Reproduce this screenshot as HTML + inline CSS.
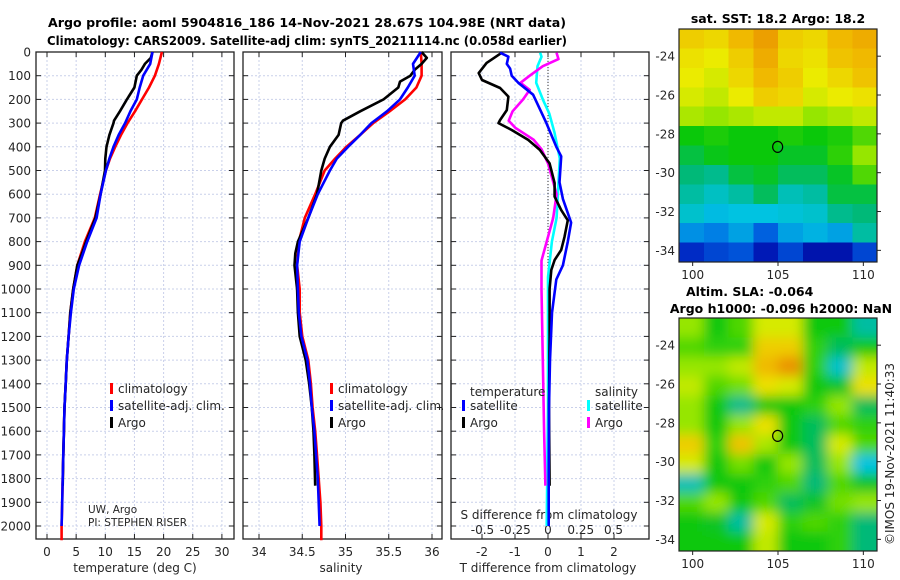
<!DOCTYPE html>
<html><head><meta charset="utf-8"><style>
body{margin:0;background:#fff;}
svg{display:block;font-family:"DejaVu Sans","Liberation Sans",sans-serif;}
.t{font-size:12px;fill:#262626;}
.b{font-size:12.5px;font-weight:bold;fill:#000;}
</style></head><body>
<svg id="fig" width="900" height="580" viewBox="0 0 900 580">
<text class="b" x="307" y="27" text-anchor="middle" textLength="518" lengthAdjust="spacingAndGlyphs">Argo profile: aoml 5904816_186 14-Nov-2021 28.67S 104.98E (NRT data)</text>
<text class="b" x="307" y="45" text-anchor="middle" textLength="520" lengthAdjust="spacingAndGlyphs">Climatology: CARS2009. Satellite-adj clim: synTS_20211114.nc (0.058d earlier)</text>
<g id="g"></g>
</svg>
<script>
// ---- data ----
const depthTicks=[0,100,200,300,400,500,600,700,800,900,1000,1100,1200,1300,1400,1500,1600,1700,1800,1900,2000];
const tTicks=[0,5,10,15,20,25,30];
const sTicks=[34,34.5,35,35.5,36];
const dtTicks=[-2,-1,0,1,2];
const dsTicks=[-0.5,-0.25,0,0.25,0.5];
const dsTickLabels=["-0.5","-0.25","0","0.25","0.5"];
const latTicks=[-24,-26,-28,-30,-32,-34];
const lonTicks=[100,105,110];

const depthClim=[0,50,100,150,200,250,300,350,400,450,500,600,700,800,900,1000,1100,1200,1300,1400,1500,1600,1700,1800,1900,2000,2060];
const tempClim=[19.7,19.2,18.5,17.5,16.3,15.1,13.8,12.7,11.7,10.8,10.1,9.1,8.2,6.5,5.2,4.5,4.0,3.7,3.4,3.2,3.0,2.9,2.8,2.7,2.6,2.5,2.5];
const salClim=[35.87,35.88,35.88,35.82,35.69,35.51,35.32,35.17,35.01,34.88,34.76,34.65,34.53,34.46,34.44,34.47,34.47,34.50,34.57,34.60,34.62,34.65,34.67,34.69,34.71,34.72,34.72];
const depthSat=[0,50,100,150,200,250,300,350,400,450,500,600,700,800,900,1000,1100,1200,1300,1400,1500,1600,1700,1800,1900,2000];
const tempSat=[18.1,17.7,16.5,15.9,15.4,14.3,13.4,12.3,11.4,10.7,10.1,9.2,8.5,6.9,5.5,4.6,4.1,3.7,3.4,3.2,3.0,2.9,2.8,2.7,2.6,2.5];
const salSat=[35.87,35.78,35.80,35.72,35.63,35.48,35.30,35.17,35.03,34.90,34.82,34.68,34.57,34.47,34.44,34.45,34.46,34.49,34.56,34.59,34.61,34.64,34.66,34.68,34.69,34.70];
const depthArgo=[0,25,50,75,100,125,150,200,250,290,300,350,400,450,500,600,700,800,850,900,1000,1100,1200,1300,1400,1500,1600,1700,1830];
const tempArgo=[18.1,17.8,16.8,16.2,15.4,15.2,15.0,13.7,12.5,11.5,11.4,10.7,10.2,10.0,9.95,9.2,8.3,6.7,6.0,5.2,4.5,4.0,3.7,3.4,3.2,3.0,2.9,2.8,2.7];
const salArgo=[35.88,35.94,35.88,35.80,35.75,35.63,35.61,35.44,35.17,34.97,34.95,34.92,34.82,34.76,34.72,34.67,34.57,34.45,34.42,34.41,34.44,34.45,34.47,34.54,34.58,34.61,34.63,34.64,34.65];

const depthDT=[3,46,89,118,152,188,245,287,300,329,371,413,470,553,610,667,710,780,835,878,920,1000,1200,1500,1830];
const dTArgo=[-1.4,-1.86,-2.1,-2.0,-1.45,-1.2,-1.25,-1.45,-1.5,-1.1,-0.6,-0.25,0.05,0.2,0.2,0.4,0.6,0.5,0.4,0.2,0.1,0.05,0.05,0.03,0.05];
const depthDTs=[3,20,50,70,100,130,180,240,300,400,440,550,620,720,800,900,960,1100,1300,1500,1800,2000];
const dTSat=[-1.45,-1.2,-1.25,-1.15,-1.1,-0.9,-0.45,-0.25,-0.05,0.25,0.4,0.35,0.45,0.7,0.6,0.45,0.25,0.12,0.06,0.03,0.02,0.02];
const depthDS=[3,30,60,100,130,160,200,250,290,320,370,410,470,600,700,800,880,1000,1300,1600,1830];
const dSArgo=[0.065,0.08,-0.04,-0.14,-0.21,-0.14,-0.19,-0.27,-0.3,-0.25,-0.11,-0.05,0,0.066,0.04,-0.01,-0.05,-0.05,-0.04,-0.03,-0.02];
const depthDSs=[3,20,60,130,200,260,340,450,550,700,800,950,1200,1500,2000];
const dSSat=[-0.06,-0.05,-0.08,-0.09,-0.04,0.01,0.05,0.09,0.08,0.066,0.03,0.0,0.0,0.0,-0.01];

const sstGrid=[
[.74,.72,.78,.82,.74,.72,.78,.80],
[.70,.68,.74,.80,.72,.70,.76,.78],
[.68,.66,.72,.78,.74,.68,.72,.76],
[.66,.64,.68,.74,.72,.66,.68,.70],
[.62,.60,.62,.64,.64,.60,.62,.64],
[.52,.53,.52,.52,.53,.52,.53,.56],
[.48,.51,.52,.52,.50,.50,.54,.60],
[.44,.42,.48,.50,.46,.46,.50,.56],
[.40,.37,.40,.46,.38,.40,.48,.48],
[.36,.33,.34,.34,.35,.36,.42,.44],
[.28,.26,.30,.22,.30,.32,.30,.40],
[.14,.18,.20,.10,.18,.08,.08,.18]];
const slaGrid=[
[.60,.52,.56,.66,.66,.52,.52,.40],
[.56,.54,.54,.74,.74,.54,.46,.52],
[.60,.60,.64,.78,.84,.54,.36,.64],
[.64,.56,.58,.70,.66,.52,.50,.70],
[.60,.52,.42,.52,.52,.54,.60,.46],
[.60,.52,.60,.70,.52,.46,.56,.54],
[.74,.54,.76,.62,.52,.46,.66,.56],
[.66,.52,.58,.52,.60,.46,.60,.34],
[.38,.52,.52,.54,.56,.44,.56,.50],
[.56,.60,.52,.56,.46,.50,.58,.60],
[.52,.50,.40,.66,.54,.56,.54,.44],
[.52,.52,.52,.64,.52,.52,.54,.44]];
const floatLon=[104.98], floatLat=[-28.67];

// ---- helpers ----
const NS="http://www.w3.org/2000/svg";
const G=document.getElementById('g');
function el(tag,attrs,parent){const e=document.createElementNS(NS,tag);for(const k in attrs)e.setAttribute(k,attrs[k]);(parent||G).appendChild(e);return e;}
const TOP=52, BOT=539;
const yD=d=>TOP+d*0.237;
const xT=v=>47+v*5.83;
const xS=v=>259+(v-34)*86.5;
const xDT=v=>548+v*33;
const xDS=v=>548+v*131;
const panels=[[36,234],[243,442],[451,649]];

panels.forEach((p,i)=>{
  const [l,r]=p;
  const vx = i==0?tTicks.map(xT):i==1?sTicks.map(xS):dtTicks.map(xDT);
  vx.forEach(x=>{const ln=el('line',{x1:x,x2:x,y1:TOP,y2:BOT,stroke:'#c9d0ea','stroke-dasharray':'2,2','stroke-width':1});
    });
  depthTicks.forEach(d=>{const y=yD(d);
    const ln=el('line',{x1:l,x2:r,y1:y,y2:y,stroke:'#c9d0ea','stroke-dasharray':'2,2','stroke-width':1});
    
    el('line',{x1:l,x2:l+5,y1:y,y2:y,stroke:'#222'});el('line',{x1:r-5,x2:r,y1:y,y2:y,stroke:'#222'});
    if(i==0){const t=el('text',{x:31,y:y+4.5,'text-anchor':'end',class:'t'});t.textContent=d;
      }
  });
  vx.forEach(x=>{el('line',{x1:x,x2:x,y1:BOT,y2:BOT-5,stroke:'#222'});el('line',{x1:x,x2:x,y1:TOP,y2:TOP+5,stroke:'#222'});});
  const fr=el('rect',{x:l,y:TOP,width:r-l,height:BOT-TOP,fill:'none',stroke:'#222','stroke-width':1.3});
  
});
function xlab(xs,labels,y,name){xs.forEach((x,k)=>{const t=el('text',{x:x,y:y,'text-anchor':'middle',class:'t'});t.textContent=labels[k];
  });}
xlab(tTicks.map(xT),tTicks,556,'temp-tick-label');
xlab(sTicks.map(xS),sTicks,556,'salinity-tick-label');
xlab(dtTicks.map(xDT),dtTicks,556,'tdiff-tick-label');
xlab(dsTicks.map(xDS),dsTickLabels,534,'sdiff-tick-label');
function txt(x,y,s,name,attrs){const t=el('text',Object.assign({x:x,y:y,class:'t'},attrs||{}));t.textContent=s;
  return t;}
txt(135,572,'temperature (deg C)','x-axis-title-temperature',{'text-anchor':'middle'});
txt(341,572,'salinity','x-axis-title-salinity',{'text-anchor':'middle'});
txt(548,572,'T difference from climatology','x-axis-title-tdiff',{'text-anchor':'middle'});
txt(549,519,'S difference from climatology','axis-title-sdiff',{'text-anchor':'middle'});
txt(88,513,'UW, Argo','institution-label',{style:'font-size:10.5px'});
txt(88,526,'PI: STEPHEN RISER','pi-label',{style:'font-size:10.5px'});

const zl=el('line',{x1:xDT(0),x2:xDT(0),y1:TOP,y2:yD(2000),stroke:'#333','stroke-dasharray':'1,2','stroke-width':1});


function line(xs,ds,fx,color,name){const pts=xs.map((v,k)=>fx(v).toFixed(1)+','+yD(ds[k]).toFixed(1)).join(' ');
  const p=el('polyline',{points:pts,fill:'none',stroke:color,'stroke-width':2.6,'stroke-linejoin':'round'});
  }
line(tempClim,depthClim,xT,'#ff0000','temp-climatology-line');
line(tempArgo,depthArgo,xT,'#000','temp-argo-line');
line(tempSat,depthSat,xT,'#0000ff','temp-satellite-line');
line(salClim,depthClim,xS,'#ff0000','sal-climatology-line');
line(salArgo,depthArgo,xS,'#000','sal-argo-line');
line(salSat,depthSat,xS,'#0000ff','sal-satellite-line');
line(dSSat,depthDSs,xDS,'#00ffff','sdiff-satellite-line');
line(dSArgo,depthDS,xDS,'#ff00ff','sdiff-argo-line');
line(dTArgo,depthDT,xDT,'#000','tdiff-argo-line');
line(dTSat,depthDTs,xDT,'#0000ff','tdiff-satellite-line');

// legends
function leg(x,y,color,label,name){const m=el('rect',{x:x,y:y-9,width:3,height:11,fill:color});
  
  txt(x+8,y+1,label,name);}
[[110,'#ff0000','climatology'],[110,'#0000ff','satellite-adj. clim.'],[110,'#000','Argo']].forEach((a,k)=>leg(a[0],392+k*17,a[1],a[2],'legend-temp-'+k));
[[330,'#ff0000','climatology'],[330,'#0000ff','satellite-adj. clim.'],[330,'#000','Argo']].forEach((a,k)=>leg(a[0],392+k*17,a[1],a[2],'legend-sal-'+k));
// cover overflow of panel 1 legend into gap
el('rect',{x:235,y:380,width:7,height:40,fill:'#fff'});
el('line',{x1:243,x2:243,y1:380,y2:420,stroke:'#222','stroke-width':1.3});
el('rect',{x:443,y:380,width:7,height:40,fill:'#fff'});
el('line',{x1:451,x2:451,y1:380,y2:420,stroke:'#222','stroke-width':1.3});
txt(470,396,'temperature','legend-diff-temperature-header');
txt(595,396,'salinity','legend-diff-salinity-header');
leg(462,409,'#0000ff','satellite','legend-diff-tsat');
leg(462,426,'#000','Argo','legend-diff-targo');
leg(587,409,'#00ffff','satellite','legend-diff-ssat');
leg(587,426,'#ff00ff','Argo','legend-diff-sargo');

// ---- maps ----
const cmapStops=[[0,0,0,140],[0.12,0,30,190],[0.24,0,110,230],[0.34,0,195,225],[0.44,0,185,120],[0.52,10,200,10],[0.60,150,230,0],[0.68,235,235,0],[0.78,240,185,0],[0.88,230,120,0],[1,200,30,0]];
function cmap(v){v=Math.max(0,Math.min(1,v));for(let k=1;k<cmapStops.length;k++){const a=cmapStops[k-1],b=cmapStops[k];
  if(v<=b[0]){const f=(v-a[0])/(b[0]-a[0]);return `rgb(${Math.round(a[1]+f*(b[1]-a[1]))},${Math.round(a[2]+f*(b[2]-a[2]))},${Math.round(a[3]+f*(b[3]-a[3]))})`;}}
  return 'rgb(200,30,0)';}
const defs=el('defs',{});
const flt=el('filter',{id:'blur',x:'-5%',y:'-5%',width:'110%',height:'110%'},defs);
el('feGaussianBlur',{stdDeviation:6},flt);
function map(grid,top,smooth,name){
  const L=679,R=877,B=top+233,lon0=99.2,lon1=110.8,lat0=-22.6,lat1=-34.6;
  const xL=v=>L+(v-lon0)/(lon1-lon0)*(R-L), yL=v=>top+(v-lat0)/(lat1-lat0)*(B-top);
  const cp=el('clipPath',{id:'cp'+name},defs);el('rect',{x:L,y:top,width:R-L,height:B-top},cp);
  const g=el('g',{'clip-path':'url(#cp'+name+')'});
  
  const gi=el('g',smooth?{filter:'url(#blur)'}:{},g);
  const nr=grid.length,nc=grid[0].length,cw=(R-L)/nc,ch=(B-top)/nr;
  grid.forEach((row,i)=>row.forEach((v,j)=>{
    const ex=smooth?((j==0?14:0)):0, ey=smooth?((i==0?14:0)):0;
    const c=el('rect',{x:L+j*cw-ex,y:top+i*ch-ey,width:cw+ex+(smooth&&j==nc-1?14:0.6),height:ch+ey+(smooth&&i==nr-1?14:0.6),fill:cmap(v)},gi);
    if(!smooth) c.setAttribute('shape-rendering','crispEdges');
    }));
  const circ=el('ellipse',{cx:xL(floatLon[0]),cy:yL(floatLat[0]),rx:5,ry:5.5,fill:'none',stroke:'#000','stroke-width':1.2});
  
  el('rect',{x:L,y:top,width:R-L,height:B-top,fill:'none',stroke:'#222','stroke-width':1.2});
  latTicks.forEach(v=>{const y=yL(v);el('line',{x1:R,x2:R+4,y1:y,y2:y,stroke:'#222'});txt(L-4,y+4.5,v,'lat-tick-label',{'text-anchor':'end'});});
  lonTicks.forEach(v=>{const x=xL(v);el('line',{x1:x,x2:x,y1:B,y2:B+4,stroke:'#222'});txt(x,B+17,v,'lon-tick-label',{'text-anchor':'middle'});});
}
map(sstGrid,29,false,'sst-map');
map(slaGrid,318,true,'sla-map');
txt(778,23,'sat. SST: 18.2 Argo: 18.2','sst-map-title',{'text-anchor':'middle',class:'b'});
txt(686,296,'Altim. SLA: -0.064','sla-map-title',{class:'b'});
txt(781,313,'Argo h1000: -0.096 h2000: NaN','sla-map-subtitle',{'text-anchor':'middle',class:'b'});
txt(894,545,'©IMOS 19-Nov-2021 11:40:33','imos-timestamp',{transform:'rotate(-90 894 545)'});
</script>
</body></html>
